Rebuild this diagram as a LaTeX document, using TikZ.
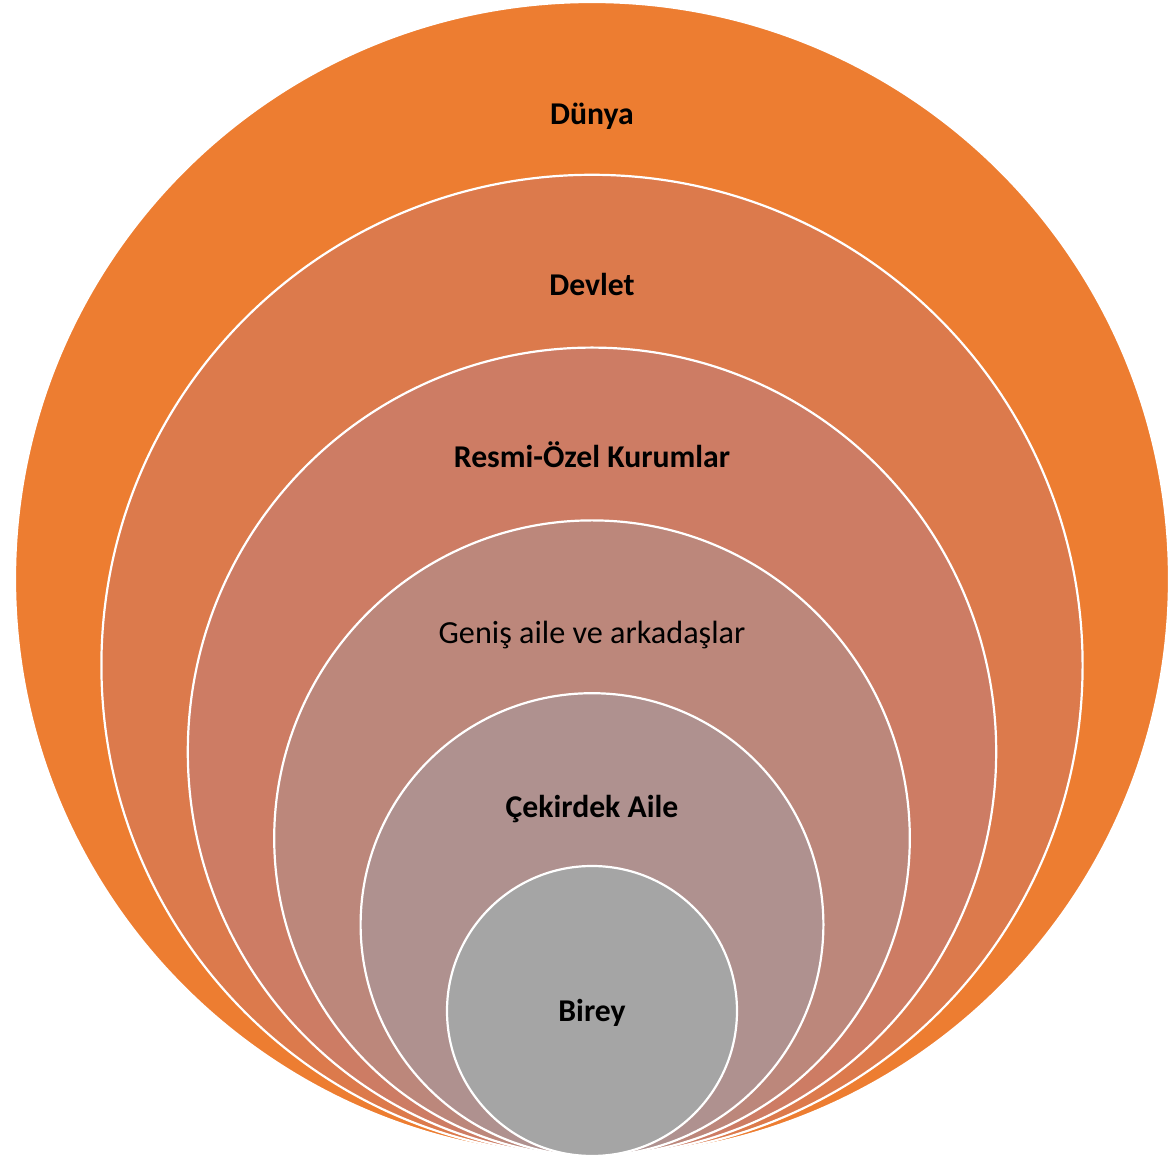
\documentclass[tikz,border=0pt]{standalone}
\usepackage{fontspec}
\setmainfont{Carlito}
\definecolor{c1}{HTML}{ED7D31}
\definecolor{c2}{HTML}{DC7A4C}
\definecolor{c3}{HTML}{CD7C64}
\definecolor{c4}{HTML}{BC877B}
\definecolor{c5}{HTML}{AF918F}
\definecolor{c6}{HTML}{A5A5A5}
\begin{document}
\begin{tikzpicture}[x=1pt,y=1pt,
  ring/.style={circle, draw=white, line width=2.2pt, inner sep=0pt, outer sep=0pt},
  lbl/.style={anchor=base, font=\fontsize{31.7}{36}\selectfont\bfseries, text=black, inner sep=0pt}]
\useasboundingbox (0,0) rectangle (1168,1157);
% bottom tangent point at y_img=1156 -> tikz y=1
\node[ring, fill=c1, minimum size=1154] (r1) at (592, {1+577}) {};
\node[ring, fill=c2, minimum size=981.2] (r2) at (592, {1+490.6}) {};
\node[ring, fill=c3, minimum size=808.4] (r3) at (592, {1+404.2}) {};
\node[ring, fill=c4, minimum size=635.6] (r4) at (592, {1+317.8}) {};
\node[ring, fill=c5, minimum size=462.8] (r5) at (592, {1+231.4}) {};
\node[ring, fill=c6, minimum size=290] (r6) at (592, {1+145}) {};
\node[lbl] (t1) at (592, {1157-125}) {Dünya};
\node[lbl] (t2) at (592, {1157-296}) {Devlet};
\node[lbl] (t3) at (592, {1157-468}) {Resmi-Özel Kurumlar};
\node[lbl, font=\fontsize{32.2}{36}\selectfont] (t4) at (592, {1157-644}) {Geniş aile ve arkadaşlar};
\node[lbl] (t5) at (592, {1157-818}) {Çekirdek Aile};
\node[lbl] (t6) at (592, {1157-1022}) {Birey};
\end{tikzpicture}
\end{document}
